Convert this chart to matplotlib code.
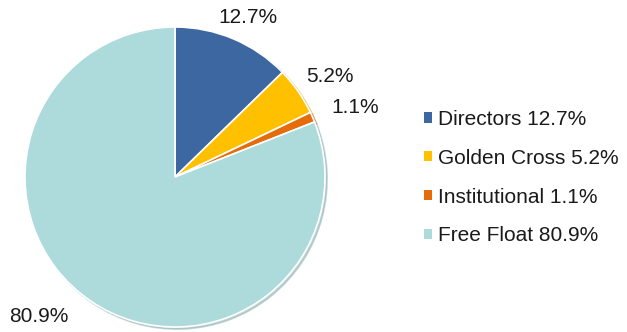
import numpy as np
import matplotlib.pyplot as plt
from matplotlib.patches import Patch

plt.rcParams['font.family'] = ['Liberation Sans', 'DejaVu Sans']

labels = ["Directors", "Golden Cross", "Institutional", "Free Float"]
shares = [12.7, 5.2, 1.1, 80.9]
colors = ["#3C67A0", "#FFC000", "#E46C0A", "#ADDADA"]

# label placement tweaks (distance from centre, angle shift in degrees)
lab_dist = [1.17, 1.23, 1.29, 1.30]
lab_shift = [-1.5, -2, -2.5, -10]

fig = plt.figure(figsize=(6.27, 3.32), dpi=100)
ax = fig.add_axes([25/627, 5/332, 300/627, 300/332])

wedges, _ = ax.pie(shares, colors=colors, startangle=90, counterclock=False,
                   radius=1, wedgeprops=dict(edgecolor="white", linewidth=1.2),
                   shadow={"ox": 0.01, "oy": -0.01, "shade": 0.2})
ax.set_xlim(-1, 1)
ax.set_ylim(-1, 1)
ax.set_aspect("equal")

for w, v, d, s in zip(wedges, shares, lab_dist, lab_shift):
    ang = np.deg2rad((w.theta1 + w.theta2) / 2 + s)
    ax.text(d*np.cos(ang), d*np.sin(ang), f"{v}%", ha="center", va="center",
            fontsize=15, color="#1a1a1a", clip_on=False)

handles = [Patch(facecolor=c, edgecolor="none") for c in colors]
leg_labels = [f"{l} {v}%" for l, v in zip(labels, shares)]
fig.legend(handles, leg_labels, loc="center left", bbox_to_anchor=(0.66, 0.465),
           frameon=False, fontsize=15, handlelength=0.38, handleheight=0.38,
           handletextpad=0.3, labelspacing=0.95, borderpad=0, labelcolor="#1a1a1a")

fig.savefig("out.png", dpi=100)
